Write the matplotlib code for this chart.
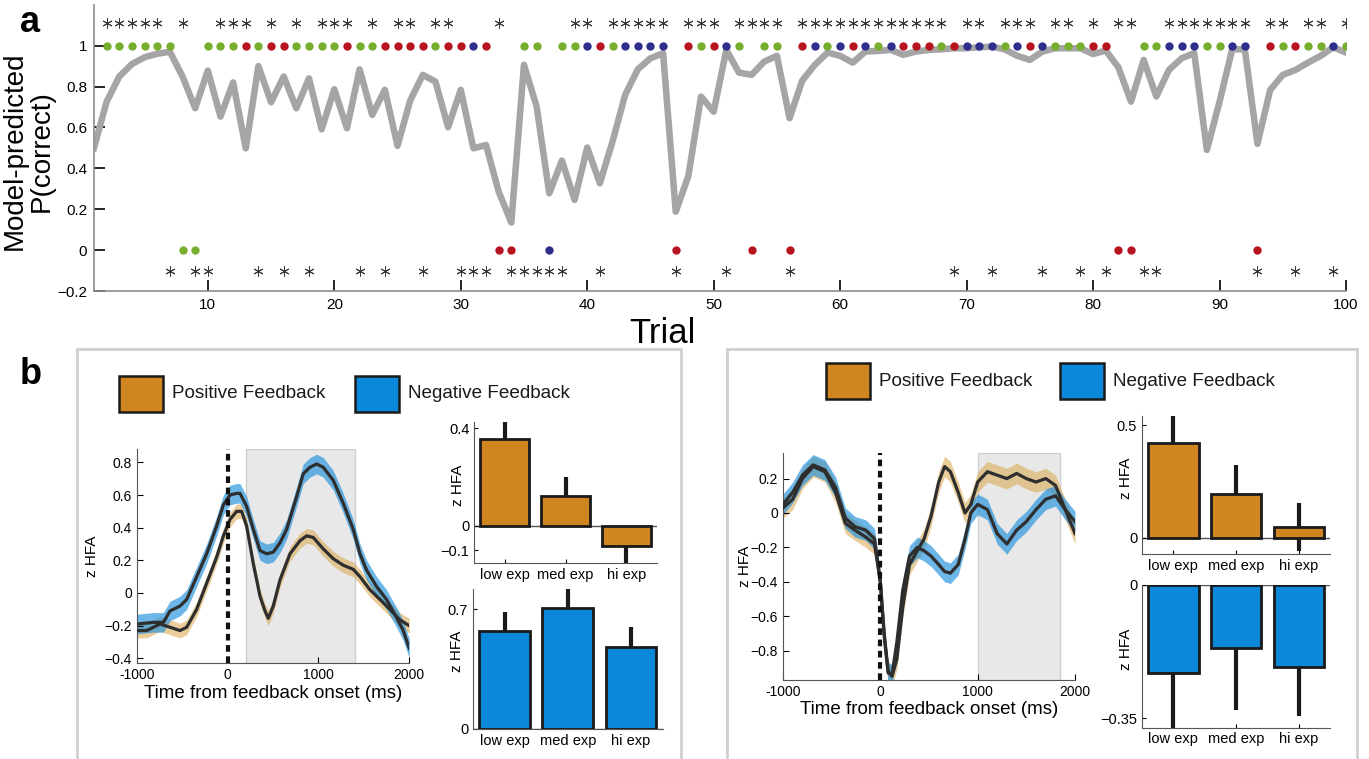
import numpy as np
import matplotlib
matplotlib.use("Agg")
import matplotlib.pyplot as plt
from matplotlib.patches import Rectangle

plt.rcParams['font.family'] = ['Liberation Sans', 'DejaVu Sans']

W, H = 1369, 759

# ---------------- panel a data ----------------
trials = np.arange(1, 101)
p_correct = [0.50, 0.726, 0.849, 0.91, 0.943, 0.96, 0.97, 0.849, 0.694, 0.878,
             0.653, 0.82, 0.498, 0.90, 0.723, 0.849, 0.694, 0.84, 0.591, 0.787,
             0.596, 0.884, 0.661, 0.784, 0.51, 0.731, 0.857, 0.824, 0.601, 0.784,
             0.498, 0.514, 0.286, 0.135, 0.906, 0.702, 0.278, 0.438, 0.246, 0.502,
             0.327, 0.531, 0.759, 0.884, 0.938, 0.963, 0.188, 0.363, 0.751, 0.677,
             0.979, 0.868, 0.857, 0.922, 0.95, 0.645, 0.829, 0.906, 0.966, 0.95,
             0.917, 0.971, 0.974, 0.979, 0.955, 0.971, 0.979, 0.982, 0.987, 0.987,
             0.992, 0.995, 0.982, 0.95, 0.93, 0.971, 0.987, 0.987, 0.987, 0.959,
             0.976, 0.894, 0.726, 0.93, 0.751, 0.881, 0.938, 0.963, 0.49, 0.726,
             0.982, 0.982, 0.52, 0.783, 0.857, 0.881, 0.917, 0.95, 0.992, 0.966]

# one letter per trial: G/R/B dot colour, '-' = no dot
choice_colors = ("-GGGGGGGGG" "GGRGRRGGGG" "RGGRRRRGRR" "BRRRGGBGGB" "RGBBBBRRGR"
                 "BGRGGRRBGB" "RBGBRRRGRB" "BBGBRBGGGR" "RRRGGBBBGG" "BBRRGRGGBG")
zero_trials = [8, 9, 33, 34, 37, 47, 53, 56, 82, 83, 93]

star_top = [2, 3, 4, 5, 6, 8, 11, 12, 13, 15, 17, 19, 20, 21, 23, 25, 26, 28, 29, 33,
            39, 40, 42, 43, 44, 45, 46, 48, 49, 50, 52, 53, 54, 55, 57, 58, 59, 60,
            61, 62, 63, 64, 65, 66, 67, 68, 70, 71, 73, 74, 75, 77, 78, 80, 82, 83,
            86, 87, 88, 89, 90, 91, 92, 94, 95, 97, 98, 100]
star_bottom = [7, 9, 10, 14, 16, 18, 22, 24, 27, 30, 31, 32, 34, 35, 36, 37, 38, 41,
               47, 51, 56, 69, 72, 76, 79, 81, 84, 85, 93, 96, 99]

dot_rgb = {'G': '#78AE2E', 'R': '#B8141F', 'B': '#2E2E8C'}

# ---------------- panel b data ----------------
orange = '#CF8620'
blue = '#0B88D9'

# left site time courses (ms, z HFA)
tl_neg = [-1000, -817, -707, -633, -523, -450, -340, -230, -120, -46, 27, 100, 137, 210,
          283, 357, 430, 503, 580, 650, 760, 833, 907, 980, 1053, 1163, 1273, 1383,
          1457, 1530, 1640, 1750, 1860, 1933, 2000]
left_neg = [-0.19, -0.18, -0.18, -0.11, -0.08, -0.04, 0.10, 0.24, 0.41, 0.54, 0.60, 0.61,
            0.61, 0.53, 0.39, 0.26, 0.24, 0.25, 0.31, 0.39, 0.59, 0.73, 0.77, 0.79, 0.77,
            0.69, 0.55, 0.39, 0.24, 0.14, 0.04, -0.04, -0.15, -0.23, -0.34]
tl_pos = [-1000, -890, -743, -633, -523, -450, -340, -230, -120, -46, 27, 100, 155, 210,
          283, 357, 412, 448, 503, 577, 687, 797, 870, 943, 1053, 1163, 1273, 1383,
          1457, 1567, 1677, 1787, 1897, 2000]
left_pos = [-0.23, -0.23, -0.19, -0.21, -0.23, -0.21, -0.10, 0.06, 0.22, 0.35, 0.45, 0.50,
            0.50, 0.41, 0.18, -0.02, -0.11, -0.155, -0.08, 0.08, 0.24, 0.32, 0.35, 0.34,
            0.27, 0.21, 0.17, 0.145, 0.10, 0.02, -0.04, -0.10, -0.165, -0.20]
left_neg_sem = 0.06
left_pos_sem = 0.045
left_window = (200, 1400)

# right site time courses
tr = [-1000, -900, -800, -690, -570, -460, -360, -260, -150, -60, 0, 40, 80, 120, 170,
      230, 300, 380, 450, 520, 600, 660, 720, 800, 870, 930, 1000, 1100, 1200, 1300,
      1400, 1500, 1600, 1700, 1800, 1900, 2000]
right_pos = [0.03, 0.08, 0.20, 0.27, 0.24, 0.12, -0.06, -0.10, -0.14, -0.18, -0.40, -0.70,
             -0.92, -0.95, -0.85, -0.55, -0.30, -0.22, -0.15, -0.02, 0.18, 0.27, 0.24,
             0.12, 0.00, 0.05, 0.18, 0.24, 0.22, 0.20, 0.23, 0.20, 0.18, 0.20, 0.16,
             0.02, -0.12]
right_neg = [0.05, 0.12, 0.22, 0.28, 0.25, 0.15, -0.03, -0.08, -0.10, -0.15, -0.40, -0.72,
             -0.93, -0.94, -0.75, -0.45, -0.25, -0.20, -0.22, -0.25, -0.30, -0.34, -0.35,
             -0.30, -0.15, 0.00, 0.05, 0.02, -0.12, -0.18, -0.10, -0.05, 0.02, 0.08, 0.10,
             0.02, -0.05]
right_sem = 0.06
right_window = (1000, 1850)

bar_labels = ['low exp', 'med exp', 'hi exp']
left_pos_bars = [0.356, 0.123, -0.084]
left_pos_err = [0.07, 0.078, 0.07]
left_neg_bars = [0.572, 0.706, 0.478]
left_neg_err = [0.111, 0.117, 0.117]
right_pos_bars = [0.42, 0.195, 0.049]
right_pos_err = [0.12, 0.128, 0.106]
right_neg_bars = [-0.232, -0.166, -0.216]
right_neg_err = [0.21, 0.163, 0.129]


def box(x0, y0, x1, y1):
    # pixel box (top-left origin) -> figure fraction rect
    return [x0 / W, 1 - y1 / H, (x1 - x0) / W, (y1 - y0) / H]


fig = plt.figure(figsize=(W / 100, H / 100), dpi=100)

# ================= panel a =================
ax = fig.add_axes(box(94, 4.7, 1346, 291.1))
ax.plot(trials, p_correct, color='#A5A5A5', lw=4.7, zorder=2)
for code, col in dot_rgb.items():
    xs = [t for t, c in zip(trials, choice_colors) if c == code]
    ys = [0 if t in zero_trials else 1 for t in xs]
    ax.scatter(xs, ys, s=36, color=col, lw=0, zorder=3)
ax.scatter(star_top, [1.11] * len(star_top), marker=(6, 2, 0), s=45,
           color='#3A3A3A', lw=0.7, zorder=3)
ax.scatter(star_bottom, [-0.1] * len(star_bottom), marker=(6, 2, 0), s=45,
           color='#3A3A3A', lw=0.7, zorder=3)
ax.set_xlim(1, 100)
ax.set_ylim(-0.2, 1.2)
ax.set_xticks(range(10, 101, 10))
ax.set_yticks([-0.2, 0, 0.2, 0.4, 0.6, 0.8, 1])
ax.set_yticklabels(['\u22120.2', '0', '0.2', '0.4', '0.6', '0.8', '1'])
ax.tick_params(direction='in', length=8, width=1.2, labelsize=11, pad=5)
for s in ['top', 'right']:
    ax.spines[s].set_visible(False)
for s in ['left', 'bottom']:
    ax.spines[s].set_color('#8C8C8C')
    ax.spines[s].set_linewidth(1.2)
ax.set_xlabel('Trial', fontsize=25)
ax.xaxis.set_label_coords((662 - 94) / 1252, -0.09)
ax.set_ylabel('Model-predicted\nP(correct)', fontsize=20, linespacing=1.05)
ax.yaxis.set_label_coords(-0.031, 0.49)
fig.text(20 / W, 1 - 22 / H, 'a', fontsize=26, fontweight='bold', va='center')
fig.text(20 / W, 1 - 374 / H, 'b', fontsize=26, fontweight='bold', va='center')

# ================= panel b frames and legends =================
for x0, x1 in [(77, 681), (727, 1357)]:
    fig.add_artist(Rectangle((x0 / W, -0.05), (x1 - x0) / W, 1 - 349 / H + 0.05,
                             transform=fig.transFigure, fill=False,
                             edgecolor='#CFCFCF', lw=2))


def legend_at(xo, xb, yc):
    for xs, col, lab in [(xo, orange, 'Positive Feedback'), (xb, blue, 'Negative Feedback')]:
        fig.add_artist(Rectangle((xs / W, 1 - (yc + 18) / H), 44 / W, 36 / H,
                                 transform=fig.transFigure, facecolor=col,
                                 edgecolor='#1A1A1A', lw=1.8))
        fig.text((xs + 53) / W, 1 - yc / H, lab, fontsize=13.6, va='center', color='#1A1A1A')


legend_at(118.6, 355, 394)
legend_at(826, 1060, 381)


def time_course(rect, t_pos, m_pos, sem_pos, t_neg, m_neg, sem_neg, window, ylim,
                yticks, yticklabels, label_x):
    a = fig.add_axes(rect)
    a.axvspan(*window, facecolor='#E8E8E8', edgecolor='#CFCFCF', lw=1, zorder=0)
    m_pos = np.array(m_pos)
    m_neg = np.array(m_neg)
    a.fill_between(t_pos, m_pos - sem_pos, m_pos + sem_pos, color='#D9A54A',
                   alpha=0.55, lw=0, zorder=1)
    a.fill_between(t_neg, m_neg - sem_neg, m_neg + sem_neg, color='#1E90DC',
                   alpha=0.65, lw=0, zorder=1)
    a.plot(t_pos, m_pos, color='#2E2E2E', lw=2.3, zorder=3)
    a.plot(t_neg, m_neg, color='#2E2E2E', lw=2.3, zorder=3)
    a.axvline(0, color='#111111', lw=3, ls=(0, (1.6, 1.1)), zorder=4)
    a.set_xlim(-1000, 2000)
    a.set_ylim(*ylim)
    a.set_xticks([-1000, 0, 1000, 2000])
    a.set_xticklabels(['-1000', '0', '1000', '2000'])
    a.set_yticks(yticks)
    a.set_yticklabels(yticklabels)
    a.tick_params(direction='in', length=4, labelsize=10)
    for s in ['top', 'right']:
        a.spines[s].set_visible(False)
    for s in ['left', 'bottom']:
        a.spines[s].set_color('#555555')
    a.set_xlabel('Time from feedback onset (ms)', fontsize=13.5, labelpad=2)
    a.set_ylabel('z HFA', fontsize=11)
    a.yaxis.set_label_coords(label_x, 0.5)
    return a


def bar_chart(rect, vals, errs, col, ylim, yticks, yticklabels, label_x):
    a = fig.add_axes(rect)
    pos = np.arange(1, 4)
    vals = np.array(vals)
    errs = np.array(errs)
    a.vlines(pos, vals - errs, vals + errs, color='#1A1A1A', lw=3, zorder=2)
    a.bar(pos, vals, width=0.8, color=col, edgecolor='#1A1A1A', lw=2, zorder=3)
    a.axhline(0, color='#555555', lw=1, zorder=1)
    a.set_xlim(0.5, 3.5)
    a.set_ylim(*ylim)
    a.set_xticks(pos)
    a.set_xticklabels(bar_labels)
    a.set_yticks(yticks)
    a.set_yticklabels(yticklabels)
    a.tick_params(direction='in', length=3, labelsize=10.5)
    for s in ['top', 'right']:
        a.spines[s].set_visible(False)
    for s in ['left', 'bottom']:
        a.spines[s].set_color('#555555')
    a.set_ylabel('z HFA', fontsize=11)
    a.yaxis.set_label_coords(label_x, 0.55)
    return a


# left site
time_course(box(136.7, 449.3, 409.3, 663.2), tl_pos, left_pos, left_pos_sem,
            tl_neg, left_neg, left_neg_sem, left_window, (-0.43, 0.88),
            [-0.4, -0.2, 0, 0.2, 0.4, 0.6, 0.8],
            ['\u22120.4', '\u22120.2', '0', '0.2', '0.4', '0.6', '0.8'], -0.138)
bar_chart(box(474.3, 421.7, 656.7, 562.7), left_pos_bars, left_pos_err, orange,
          (-0.152, 0.427), [-0.1, 0, 0.4], ['\u22120.1', '0', '0.4'], -0.05)
bar_chart(box(473, 588.5, 662.5, 729), left_neg_bars, left_neg_err, blue,
          (0, 0.82), [0, 0.7], ['0', '0.7'], -0.045)

# right site
time_course(box(783, 452.8, 1075, 679.8), tr, right_pos, right_sem,
            tr, right_neg, right_sem, right_window, (-0.97, 0.35),
            [-0.8, -0.6, -0.4, -0.2, 0, 0.2],
            ['\u22120.8', '\u22120.6', '\u22120.4', '\u22120.2', '0', '0.2'], -0.106)
bar_chart(box(1142, 416, 1330.4, 553.8), right_pos_bars, right_pos_err, orange,
          (-0.07, 0.54), [0, 0.5], ['0', '0.5'], -0.05)
bar_chart(box(1142, 585, 1330.4, 727.5), right_neg_bars, right_neg_err, blue,
          (-0.375, 0), [-0.35, 0], ['\u22120.35', '0'], -0.05)

fig.savefig('out.png', dpi=100)
